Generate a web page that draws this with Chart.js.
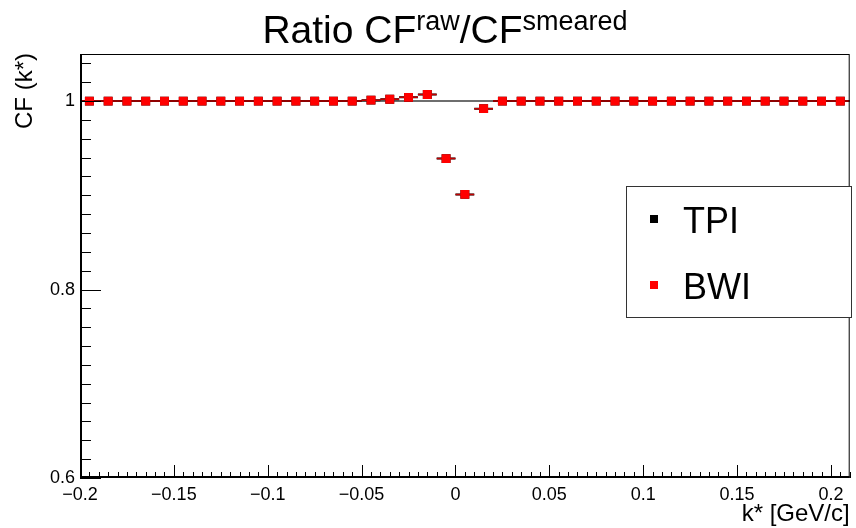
<!DOCTYPE html>
<html>
<head>
<meta charset="utf-8">
<script src="https://cdn.jsdelivr.net/npm/chart.js@4.4.1/dist/chart.umd.min.js"></script>
<style>
  body { margin: 0; background: #fff; }
  canvas { display: block; }
</style>
</head>
<body>
<canvas id="ratioChart" width="856" height="528"></canvas>
<script>
// Bin centres (k* in GeV/c) and the ratio CF raw / CF smeared for both models
const kStar = [
    -0.195, -0.185, -0.175, -0.165, -0.155, -0.145, -0.135, -0.125, -0.115, -0.105,
    -0.095, -0.085, -0.075, -0.065, -0.055, -0.045, -0.035, -0.025, -0.015, -0.005,
    0.005, 0.015, 0.025, 0.035, 0.045, 0.055, 0.065, 0.075, 0.085, 0.095,
    0.105, 0.115, 0.125, 0.135, 0.145, 0.155, 0.165, 0.175, 0.185, 0.195, 0.205
];
const tpiRatio = [
    1.000, 1.000, 1.000, 1.000, 1.000, 1.000, 1.000, 1.000, 1.000, 1.000,
    1.000, 1.000, 1.000, 1.000, 1.000, 1.001, 1.002, 1.004, 1.007, 0.939,
    0.901, 0.992, 1.000, 1.000, 1.000, 1.000, 1.000, 1.000, 1.000, 1.000,
    1.000, 1.000, 1.000, 1.000, 1.000, 1.000, 1.000, 1.000, 1.000, 1.000, 1.000
];
const bwiRatio = [
    1.000, 1.000, 1.000, 1.000, 1.000, 1.000, 1.000, 1.000, 1.000, 1.000,
    1.000, 1.000, 1.000, 1.000, 1.000, 1.001, 1.002, 1.004, 1.007, 0.939,
    0.901, 0.992, 1.000, 1.000, 1.000, 1.000, 1.000, 1.000, 1.000, 1.000,
    1.000, 1.000, 1.000, 1.000, 1.000, 1.000, 1.000, 1.000, 1.000, 1.000, 1.000
];
const binHalfWidth = 0.005;

const xTickValues = [-0.2, -0.15, -0.1, -0.05, 0, 0.05, 0.1, 0.15, 0.2];
const xTickLabels = ['\u22120.2', '\u22120.15', '\u22120.1', '\u22120.05', '0', '0.05', '0.1', '0.15', '0.2'];
const yTickValues = [0.6, 0.8, 1];
const yTickLabels = ['0.6', '0.8', '1'];

const FONT = "'Liberation Sans', Arial, Helvetica, sans-serif";

function toPoints(values) {
    return kStar.map((k, i) => ({ x: k, y: values[i] }));
}

// draws a string made of normal and superscript pieces, centred on cx
function drawRichText(ctx, parts, cx, baseline) {
    let total = 0;
    parts.forEach(p => {
        ctx.font = `${p.size}px ${FONT}`;
        p.w = ctx.measureText(p.t).width;
        total += p.w;
    });
    let x = cx - total / 2;
    ctx.textAlign = 'left';
    ctx.textBaseline = 'alphabetic';
    parts.forEach(p => {
        ctx.font = `${p.size}px ${FONT}`;
        ctx.fillText(p.t, x, baseline - (p.rise || 0));
        x += p.w;
    });
}

const rootStyle = {
    id: 'rootStyle',
    beforeDatasetDraw(chart, args) {
        const ds = chart.data.datasets[args.index];
        if (!ds.errColor) return;
        const { ctx, chartArea } = chart;
        const xs = chart.scales.x, ys = chart.scales.y;
        ctx.save();
        ctx.beginPath();
        ctx.rect(chartArea.left, chartArea.top, chartArea.right - chartArea.left, chartArea.bottom - chartArea.top);
        ctx.clip();
        ctx.strokeStyle = ds.errColor;
        ctx.lineWidth = ds.errWidth;
        ds.data.forEach(p => {
            const y = ys.getPixelForValue(p.y);
            ctx.beginPath();
            ctx.moveTo(xs.getPixelForValue(p.x - binHalfWidth), y);
            ctx.lineTo(xs.getPixelForValue(p.x + binHalfWidth), y);
            ctx.stroke();
        });
        ctx.restore();
    },
    afterDraw(chart) {
        const { ctx, chartArea: a } = chart;
        const xs = chart.scales.x, ys = chart.scales.y;
        ctx.save();

        // frame
        ctx.strokeStyle = '#000';
        ctx.lineWidth = 1;
        ctx.strokeRect(a.left + 0.5, a.top + 0.5, a.right - a.left - 1, a.bottom - a.top - 1);
        ctx.lineWidth = 2;
        ctx.beginPath();
        ctx.moveTo(a.left + 1, a.top);
        ctx.lineTo(a.left + 1, a.bottom - 1);
        ctx.lineTo(a.right, a.bottom - 1);
        ctx.stroke();

        // inner ticks, y axis
        ctx.lineWidth = 1;
        ctx.beginPath();
        for (let i = 0; i <= 22; i++) {
            const v = 0.6 + i * 0.02;
            const y = Math.round(ys.getPixelForValue(v)) + 0.5;
            const len = (i % 10 === 0) ? 21 : 11;
            ctx.moveTo(a.left, y);
            ctx.lineTo(a.left + len, y);
        }
        // inner ticks, x axis
        for (let i = 0; i <= 82; i++) {
            const v = -0.2 + i * 0.005;
            const x = Math.round(xs.getPixelForValue(v)) + 0.5;
            const len = (i % 10 === 0) ? 13 : 6;
            ctx.moveTo(x, a.bottom);
            ctx.lineTo(x, a.bottom - len);
        }
        ctx.stroke();

        // axis titles
        ctx.fillStyle = '#000';
        ctx.font = `24px ${FONT}`;
        ctx.textAlign = 'right';
        ctx.textBaseline = 'alphabetic';
        ctx.fillText('k* [GeV/c]', a.right, 521);
        ctx.save();
        ctx.translate(32, a.top - 1);
        ctx.rotate(-Math.PI / 2);
        ctx.fillText('CF (k*)', 0, 0);
        ctx.restore();

        // title
        drawRichText(ctx, [
            { t: 'Ratio CF', size: 39 },
            { t: 'raw', size: 27, rise: 13 },
            { t: '/CF', size: 39 },
            { t: 'smeared', size: 27, rise: 13 }
        ], 445, 43);

        // legend
        const lx = 626, ly = 186, lw = 226, lh = 132;
        ctx.fillStyle = '#fff';
        ctx.fillRect(lx, ly, lw, lh);
        ctx.strokeStyle = '#333';
        ctx.lineWidth = 1;
        ctx.strokeRect(lx + 0.5, ly + 0.5, lw - 1, lh - 1);
        const entries = chart.data.datasets.filter(d => d.legendRow !== undefined);
        entries.sort((p, q) => p.legendRow - q.legendRow).forEach(d => {
            const cy = ly + 33 + d.legendRow * 66;
            ctx.fillStyle = d.backgroundColor;
            ctx.fillRect(650, cy - 4, 8, 8);
            ctx.fillStyle = '#000';
            ctx.font = `36px ${FONT}`;
            ctx.textAlign = 'left';
            ctx.textBaseline = 'alphabetic';
            ctx.fillText(d.label, 683, cy + 14);
        });

        ctx.restore();
    }
};

new Chart(document.getElementById('ratioChart'), {
    type: 'scatter',
    data: {
        datasets: [
            {
                label: 'BWI',
                data: toPoints(bwiRatio),
                pointStyle: 'rect',
                pointRadius: 6.3,
                borderWidth: 0,
                backgroundColor: '#ff0000',
                errColor: '#c00000',
                errWidth: 1.5,
                legendRow: 1,
                order: 1
            },
            {
                label: 'TPI',
                data: toPoints(tpiRatio),
                pointStyle: 'rect',
                pointRadius: 6.3,
                borderWidth: 0,
                backgroundColor: '#000000',
                errColor: '#000000',
                errWidth: 2,
                legendRow: 0,
                order: 2
            },
            {
                type: 'line',
                label: 'unity',
                data: [{ x: -0.2, y: 1 }, { x: 0.21, y: 1 }],
                borderColor: '#6e6e6e',
                borderWidth: 2,
                pointRadius: 0,
                order: 3
            }
        ]
    },
    options: {
        responsive: false,
        devicePixelRatio: 1,
        animation: false,
        events: [],
        layout: { padding: { top: 54, right: 4, left: 0, bottom: 0 } },
        plugins: {
            legend: { display: false },
            tooltip: { enabled: false },
            title: { display: false }
        },
        scales: {
            x: {
                type: 'linear',
                min: -0.2,
                max: 0.21,
                grid: { display: false, drawTicks: false },
                border: { display: false },
                afterBuildTicks: s => { s.ticks = xTickValues.map(v => ({ value: v })); },
                afterFit: s => { s.height = 50; },
                ticks: {
                    autoSkip: false,
                    maxRotation: 0,
                    padding: 6,
                    color: '#000',
                    font: { family: FONT, size: 18 },
                    callback: (v, i) => xTickLabels[i]
                }
            },
            y: {
                min: 0.6,
                max: 1.05,
                grid: { display: false, drawTicks: false },
                border: { display: false },
                afterBuildTicks: s => { s.ticks = yTickValues.map(v => ({ value: v })); },
                afterFit: s => { s.width = 80; },
                ticks: {
                    padding: 5,
                    color: '#000',
                    font: { family: FONT, size: 18 },
                    callback: (v, i) => yTickLabels[i]
                }
            }
        }
    },
    plugins: [rootStyle]
});
</script>
</body>
</html>
